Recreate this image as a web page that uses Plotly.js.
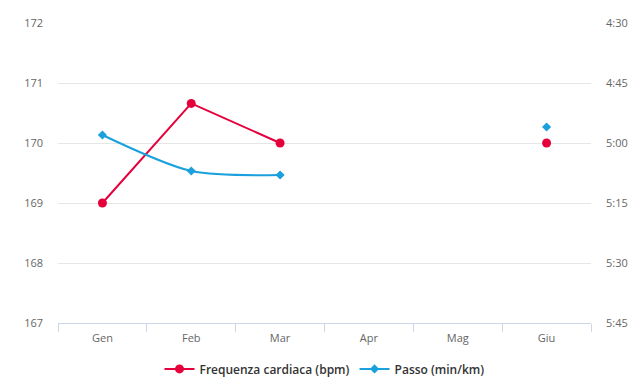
<!DOCTYPE html>
<html><head><meta charset="utf-8">
<script src="https://cdn.plot.ly/plotly-3.0.1.min.js"></script>
<style>html,body{margin:0;padding:0;background:#fff}#c{width:640px;height:386px}</style>
</head><body><div id="c"></div>
<script>
const months = ["Gen","Feb","Mar","Apr","Mag","Giu"];
const heartRate = [169, 170.66, 170, null, null, 170];
const paceSeconds = [298, 307, 308, null, null, 296];
const paceTickVals = [270, 285, 300, 315, 330, 345];
const paceTickText = ["4:30","4:45","5:00","5:15","5:30","5:45"];
const hrName = "Frequenza cardiaca (bpm)";
const paceName = "Passo (min/km)";

const traces = [
  {x: months, y: heartRate, name: hrName, type: "scatter", mode: "lines+markers",
   line: {color: "#e5003b", width: 2}, marker: {color: "#e5003b", size: 9, symbol: "circle"},
   connectgaps: false, yaxis: "y"},
  {x: months, y: paceSeconds, name: paceName, type: "scatter", mode: "lines+markers",
   line: {color: "#1aa0dc", width: 2, shape: "spline", smoothing: 0.8}, marker: {color: "#1aa0dc", size: 7, symbol: "diamond"},
   connectgaps: false, yaxis: "y2"}
];
const tickFont = {family: "Open Sans, sans-serif", size: 11, color: "#666666"};
const layout = {
  width: 640, height: 386,
  margin: {l: 58, r: 49, t: 23, b: 63, autoexpand: false},
  paper_bgcolor: "#ffffff", plot_bgcolor: "#ffffff",
  showlegend: true,
  legend: {orientation: "h", x: 0.5, xanchor: "center", y: -0.153, yanchor: "middle",
    font: {family: "Open Sans, sans-serif", size: 12, color: "#333333", weight: 600}, itemwidth: 30, tracegroupgap: 0},
  xaxis: {type: "category", categoryorder: "array", categoryarray: months, range: [-0.5, 5.5],
    showline: true, linecolor: "#ccd6eb", linewidth: 1, ticks: "outside", tickson: "boundaries",
    ticklen: 8, tickcolor: "#ccd6eb", showgrid: false, tickfont: tickFont, fixedrange: true, zeroline: false,
    ticklabelstandoff: 5},
  yaxis: {range: [167, 172], dtick: 1, tick0: 167, showgrid: true, gridcolor: "#e6e6e6", gridwidth: 1,
    zeroline: false, showline: false, tickfont: tickFont, ticklabelstandoff: 14},
  yaxis2: {overlaying: "y", side: "right", range: [345, 270], tickmode: "array",
    tickvals: paceTickVals, ticktext: paceTickText, showgrid: false, zeroline: false,
    showline: false, tickfont: tickFont, ticklabelstandoff: 14}
};
Plotly.newPlot("c", traces, layout, {displayModeBar: false, staticPlot: true});
</script></body></html>
